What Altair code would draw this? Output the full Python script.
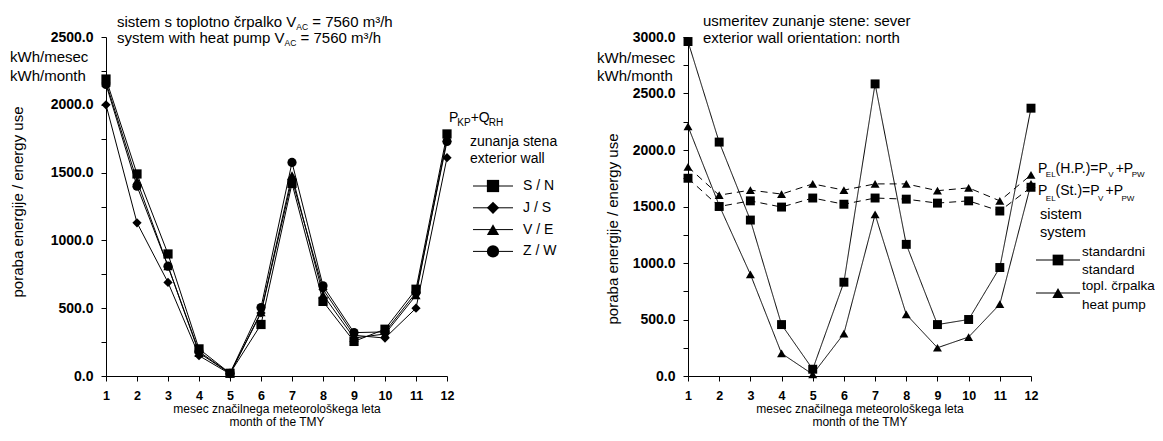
import altair as alt
import pandas as pd

FONT = "Liberation Sans"

months = list(range(1, 13))

# ---- left panel: P_KP + Q_RH by exterior wall orientation
wall_series = ["S / N", "J / S", "V / E", "Z / W"]
wall_shapes = ["square", "diamond", "triangle-up", "circle"]
sn = [2190, 1490, 900, 200, 20, 380, 1420, 550, 255, 345, 640, 1785]
js = [2000, 1130, 690, 150, 15, 465, 1450, 640, 300, 280, 500, 1610]
ve = [2165, 1440, 810, 170, 20, 470, 1480, 600, 280, 310, 595, 1755]
zw = [2150, 1400, 810, 180, 20, 505, 1575, 665, 320, 325, 615, 1730]

# ---- right panel: north wall, standard vs heat pump system
systems = ["standardni", "topl. črpalka"]
systems_en = ["standard", "heat pump"]
system_shapes = ["square", "triangle-up"]
std = [2960, 2070, 1380, 455, 60, 830, 2585, 1165, 455, 500, 960, 2370]
hp = [2210, 1510, 900, 200, 15, 375, 1430, 545, 250, 345, 635, 1700]
pel_st = [1750, 1500, 1550, 1495, 1575, 1520, 1575, 1565, 1530, 1550, 1460, 1670]
pel_hp = [1850, 1600, 1645, 1610, 1700, 1645, 1700, 1700, 1640, 1665, 1550, 1780]

y_ticks_left = list(range(0, 2501, 250))
y_ticks_right = list(range(0, 3001, 250))

left_df = pd.DataFrame(
    [{"month": m, "value": v, "series": s}
     for s, vals in zip(wall_series, [sn, js, ve, zw])
     for m, v in zip(months, vals)]
)

right_rows = []
for key, system, kind, vals in [
    ("std", systems[0], "solid", std),
    ("hp", systems[1], "solid", hp),
    ("pel_st", systems[0], "dashed", pel_st),
    ("pel_hp", systems[1], "dashed", pel_hp),
]:
    for m, v in zip(months, vals):
        right_rows.append({"month": m, "value": v, "series": key, "system": system, "kind": kind})
right_df = pd.DataFrame(right_rows)

# ---- text width helper (Arial / Liberation Sans metrics)
CW = {" ": 278, "(": 333, ")": 333, "+": 584, ".": 278, "/": 278, ":": 278, "=": 584,
      "A": 667, "C": 722, "E": 667, "H": 722, "K": 667, "L": 556, "P": 667, "Q": 778,
      "R": 722, "S": 667, "V": 667, "W": 944, "a": 556, "c": 500, "e": 556, "h": 556,
      "i": 222, "k": 500, "l": 222, "m": 833, "n": 556, "o": 556, "p": 556, "r": 333,
      "s": 500, "t": 278, "u": 556, "w": 722, "y": 500, "č": 500, "³": 333}


def tw(s, size):
    return sum(CW.get(c, 556) for c in s) / 1000.0 * size


one = alt.Data(values=[{"i": 0}])


def text_at(txt, x, y, size=15, align="left", baseline="alphabetic", angle=0):
    kw = dict(text=txt, align=align, baseline=baseline, fontSize=size, font=FONT, color="black")
    if angle:
        kw["angle"] = angle
    return alt.Chart(one).mark_text(**kw).encode(x=alt.value(x), y=alt.value(y))


def rich(pieces, x0, y0, main=15, sub=9, dy=3, kern=0.0, space=0.278):
    out = []
    x = x0
    for txt, is_sub in pieces:
        fs = sub if is_sub else main
        if is_sub:
            x -= kern
        lead = len(txt) - len(txt.lstrip(" "))
        x += lead * space * fs
        core = txt.strip(" ")
        out.append(text_at(core, x, y0 + (dy if is_sub else 0), size=fs))
        x += tw(core, fs)
        trail = len(txt) - len(txt.rstrip(" "))
        x += trail * space * fs
    return out


def legend_glyph(shape, cx, cy, half, size):
    line = alt.Chart(one).mark_rule(color="black", strokeWidth=1).encode(
        x=alt.value(cx - half), x2=alt.value(cx + half), y=alt.value(cy))
    mark = alt.Chart(one).mark_point(shape=shape, filled=True, color="black", size=size, opacity=1).encode(
        x=alt.value(cx), y=alt.value(cy))
    return [line, mark]


def x_axis():
    return alt.Axis(values=months, title=["mesec značilnega meteorološkega leta", "month of the TMY"],
                    labelFont=FONT, labelFontWeight="bold", labelFontSize=12.5, labelPadding=8,
                    labelFlush=False, labelAngle=0, tickSize=5, titleFont=FONT, titleFontSize=12,
                    titleFontWeight="normal", titleLineHeight=13, titlePadding=2, grid=False)


def y_axis(ticks):
    return alt.Axis(values=ticks, format=".1f",
                    labelExpr="datum.value % 500 === 0 ? format(datum.value, '.1f') : ''",
                    title=None, labelFont=FONT, labelFontWeight="bold", labelFontSize=14,
                    labelPadding=8, labelFlush=False, tickSize=5, grid=False)


# ---------------- left panel
xl = alt.X("month:Q", scale=alt.Scale(domain=[1, 12], nice=False, zero=False), axis=x_axis())
yl = alt.Y("value:Q", scale=alt.Scale(domain=[0, 2500], nice=False), axis=y_axis(y_ticks_left))

left_lines = alt.Chart(left_df).mark_line(color="black", strokeWidth=1).encode(x=xl, y=yl, detail="series:N")
left_pts = alt.Chart(left_df).mark_point(filled=True, color="black", size=85, opacity=1).encode(
    x=xl, y=yl,
    shape=alt.Shape("series:N", scale=alt.Scale(domain=wall_series, range=wall_shapes), legend=None))

left_extra = []
left_extra += rich([("sistem s toplotno črpalko V", False), ("AC", True), (" = 7560 m³/h", False)], 11, -10, sub=8.5)
left_extra += rich([("system with heat pump V", False), ("AC", True), (" = 7560 m³/h", False)], 11, 6, sub=8.5)
left_extra += rich([("P", False), ("KP", True), ("+Q", False), ("RH", True)], 343, 85, main=14, sub=10, dy=4, kern=1)
left_extra.append(text_at("kWh/mesec", -96, 25))
left_extra.append(text_at("kWh/month", -96, 44))
left_extra.append(text_at("poraba energije / energy use", -88, 165, align="center", baseline="middle", angle=270))
# legend
left_extra.append(text_at("zunanja stena", 364, 105, size=14, baseline="middle"))
left_extra.append(text_at("exterior wall", 364, 122, size=14, baseline="middle"))
for i, (lab, shp) in enumerate(zip(wall_series, wall_shapes)):
    cy = 149 + i * 21.8
    left_extra += legend_glyph(shp, 387, cy, 20, 150)
    left_extra.append(text_at(lab, 417, cy, size=14, baseline="middle"))

left = alt.layer(left_lines, left_pts, *left_extra).properties(width=341, height=339)

# ---------------- right panel
xr = alt.X("month:Q", scale=alt.Scale(domain=[1, 12], nice=False, zero=False), axis=x_axis())
yr = alt.Y("value:Q", scale=alt.Scale(domain=[0, 3000], nice=False), axis=y_axis(y_ticks_right))

right_lines = alt.Chart(right_df).mark_line(color="black", strokeWidth=1).encode(
    x=xr, y=yr, detail="series:N",
    strokeDash=alt.StrokeDash("kind:N", scale=alt.Scale(domain=["solid", "dashed"], range=[[1, 0], [7, 5]]),
                              legend=None))
right_pts = alt.Chart(right_df).mark_point(filled=True, color="black", size=80, opacity=1).encode(
    x=xr, y=yr,
    shape=alt.Shape("system:N", scale=alt.Scale(domain=systems, range=system_shapes), legend=None))

right_extra = []
right_extra += rich([("usmeritev zunanje stene: sever", False)], 15, -11)
right_extra += rich([("exterior wall orientation: north", False)], 15, 6)
right_extra += rich([("P", False), ("EL", True), ("(H.P.)=P", False), ("V", True), (" +P", False), ("PW", True)],
                    350, 136, main=14, sub=8, dy=4, kern=1.5, space=0.15)
right_extra += rich([("P", False), ("EL", True), ("(St.)=P", False), ("V", True), (" +P", False), ("PW", True)],
                    350, 158, main=14, sub=8, dy=6, kern=1.5, space=0.15)
right_extra.append(text_at("kWh/mesec", -91, 26))
right_extra.append(text_at("kWh/month", -91, 44))
right_extra.append(text_at("poraba energije / energy use", -75, 192, align="center", baseline="middle", angle=270))
# legend
right_extra.append(text_at("sistem", 352, 178, size=14.5, baseline="middle"))
right_extra.append(text_at("system", 352, 196, size=14.5, baseline="middle"))
for i, (lab, lab_en, shp) in enumerate(zip(systems, systems_en, system_shapes)):
    cy = 223 + i * 33
    right_extra += legend_glyph(shp, 370, cy, 22, 115 if shp == "square" else 130)
    right_extra.append(text_at(lab, 394, cy - 8 + i, size=13.5, baseline="middle"))
    right_extra.append(text_at(lab_en, 394, cy + 10 + i * 2, size=13.5, baseline="middle"))

right = alt.layer(right_lines, right_pts, *right_extra).properties(width=343, height=339)

chart = alt.hconcat(left, right, spacing=241, bounds="flush").resolve_scale(
    shape="independent", strokeDash="independent"
).properties(
    padding={"left": 2, "top": 6, "right": 0, "bottom": 0}
).configure_view(stroke=None).configure_axis(
    domainColor="black", tickColor="black", labelColor="black", titleColor="black",
    domainWidth=1, tickWidth=1)

chart.save("out.html", embed_options={"renderer": "svg", "actions": False})
